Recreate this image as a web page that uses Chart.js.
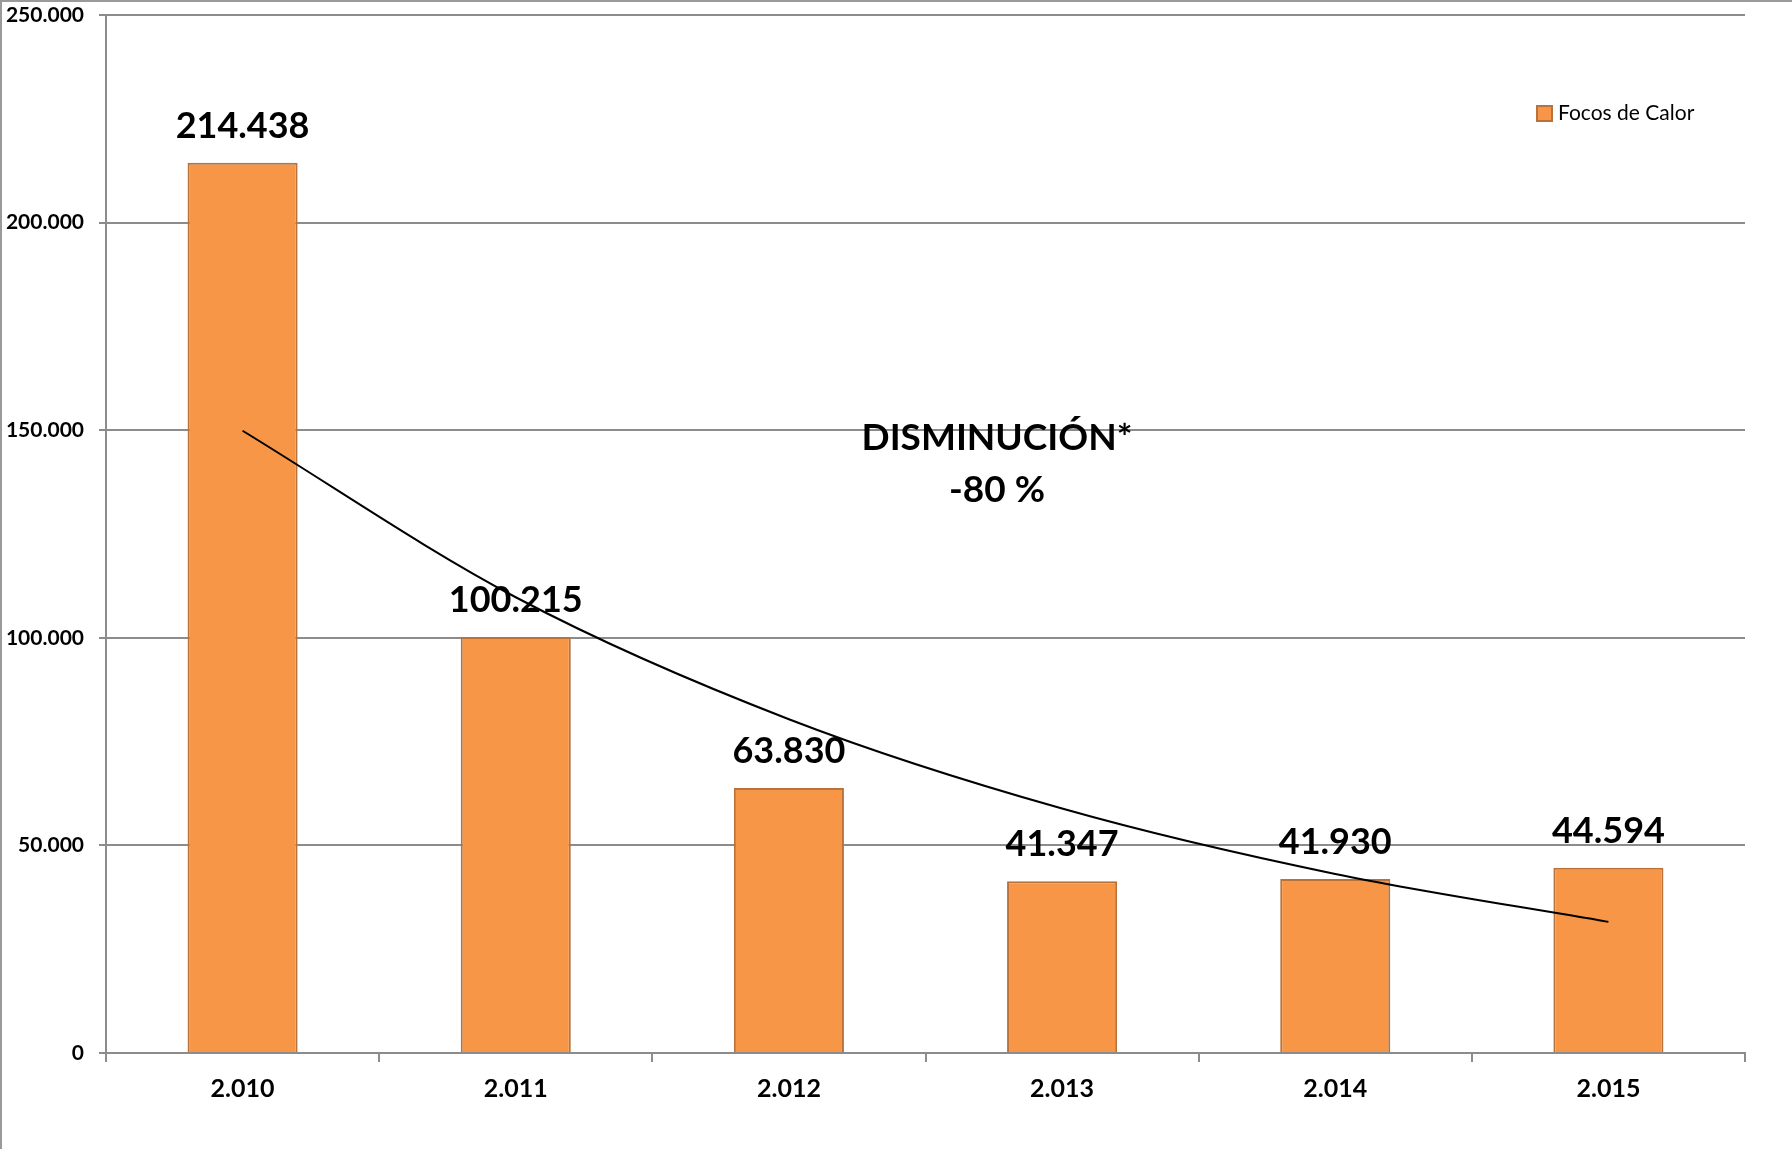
<!DOCTYPE html>
<html>
<head>
<meta charset="utf-8">
<script src="https://cdn.jsdelivr.net/npm/chart.js@4.4.1/dist/chart.umd.min.js"></script>
<style>
html,body{margin:0;padding:0;background:#fff;overflow:hidden;}
canvas{display:block;}
</style>
</head>
<body>
<canvas id="c" width="1792" height="1149"></canvas>
<script>
const categories = ['2.010', '2.011', '2.012', '2.013', '2.014', '2.015'];
const focosDeCalor = [214438, 100215, 63830, 41347, 41930, 44594];
const seriesName = 'Focos de Calor';
const yTicks = [0, 50000, 100000, 150000, 200000, 250000];
const annotationLines = ['DISMINUCIÓN*', '-80 %'];

// Exponential trend line (least squares on ln(y)), as the spreadsheet draws it
function expTrend(vals) {
  const n = vals.length;
  const xs = vals.map((_, i) => i + 1);
  const ls = vals.map(v => Math.log(v));
  const mx = xs.reduce((a, b) => a + b, 0) / n;
  const ml = ls.reduce((a, b) => a + b, 0) / n;
  let sxy = 0, sxx = 0;
  for (let i = 0; i < n; i++) { sxy += (xs[i] - mx) * (ls[i] - ml); sxx += (xs[i] - mx) ** 2; }
  const b = sxy / sxx, a = ml - b * mx;
  return xs.map(x => Math.exp(a + b * x));
}
const trendValues = expTrend(focosDeCalor);

const FONT = 'Lato, "Open Sans", sans-serif';
const fmt = v => Number(v).toLocaleString('de-DE');
const GRID = '#8c8c8c';

const decor = {
  id: 'decor',
  beforeDraw(chart) {
    const ctx = chart.ctx;
    ctx.save();
    ctx.fillStyle = '#fff';
    ctx.fillRect(0, 0, chart.width, chart.height);
    ctx.strokeStyle = '#9a9a9a';
    ctx.lineWidth = 2;
    ctx.beginPath();
    ctx.moveTo(1, chart.height);
    ctx.lineTo(1, 1);
    ctx.lineTo(chart.width, 1);
    ctx.stroke();
    ctx.restore();
  },
  afterDatasetsDraw(chart) {
    const ctx = chart.ctx;
    const area = chart.chartArea;
    ctx.save();
    // value labels above bars
    const meta = chart.getDatasetMeta(1);
    ctx.fillStyle = '#000';
    ctx.font = 'bold 36px ' + FONT;
    ctx.textAlign = 'center';
    ctx.textBaseline = 'alphabetic';
    meta.data.forEach((bar, i) => {
      ctx.fillText(fmt(focosDeCalor[i]), bar.x, bar.y - 25);
    });
    // annotation
    const ax = area.left + (area.right - area.left) * 0.5436;
    const ys = chart.scales.y;
    ctx.font = 'bold 37px ' + FONT;
    ctx.fillText(annotationLines[0], ax, ys.getPixelForValue(145200));
    ctx.fillText(annotationLines[1], ax, ys.getPixelForValue(132700));
    // legend
    const lx = 1537, ly = 106;
    ctx.fillStyle = '#F79646';
    ctx.fillRect(lx, ly, 15, 15);
    ctx.strokeStyle = '#B8733D';
    ctx.lineWidth = 2;
    ctx.strokeRect(lx, ly, 15, 15);
    ctx.fillStyle = '#000';
    ctx.font = '21px ' + FONT;
    ctx.textAlign = 'left';
    ctx.fillText(seriesName, lx + 21, ly + 14);
    ctx.restore();
  }
};

new Chart(document.getElementById('c'), {
  data: {
    labels: categories,
    datasets: [
      {
        type: 'line',
        label: 'Tendencia',
        data: trendValues,
        borderColor: '#000',
        borderWidth: 2,
        pointRadius: 0,
        tension: 0.4,
        cubicInterpolationMode: 'monotone',
        fill: false,
        order: 0
      },
      {
        type: 'bar',
        label: seriesName,
        data: focosDeCalor,
        backgroundColor: '#F79646',
        borderColor: '#B8733D',
        borderWidth: 2,
        categoryPercentage: 1,
        barPercentage: 0.403,
        order: 1
      }
    ]
  },
  options: {
    responsive: false,
    animation: false,
    devicePixelRatio: 1,
    layout: { padding: { top: 15, right: 47, left: 0, bottom: 0 } },
    plugins: { legend: { display: false }, tooltip: { enabled: false } },
    scales: {
      x: {
        type: 'category',
        offset: true,
        grid: { display: true, drawOnChartArea: false, drawTicks: true, tickLength: 9, color: GRID, lineWidth: 2, offset: true },
        border: { display: true, color: GRID, width: 2 },
        ticks: { color: '#000', font: { family: FONT, size: 25, weight: 'bold' }, padding: 12, maxRotation: 0 },
        afterFit(s) { s.height = 96; s.paddingLeft = 0; s.paddingRight = 0; }
      },
      y: {
        min: 0,
        max: 250000,
        afterBuildTicks(s) { s.ticks = yTicks.map(v => ({ value: v })); },
        grid: { color: GRID, lineWidth: 2, tickLength: 7 },
        border: { display: true, color: GRID, width: 2 },
        ticks: { color: '#000', font: { family: FONT, size: 21, weight: 'bold' }, padding: 15, callback: v => fmt(v) },
        afterFit(s) { s.width = 106; s.paddingTop = 0; s.paddingBottom = 0; }
      }
    }
  },
  plugins: [decor]
});
</script>
</body>
</html>
